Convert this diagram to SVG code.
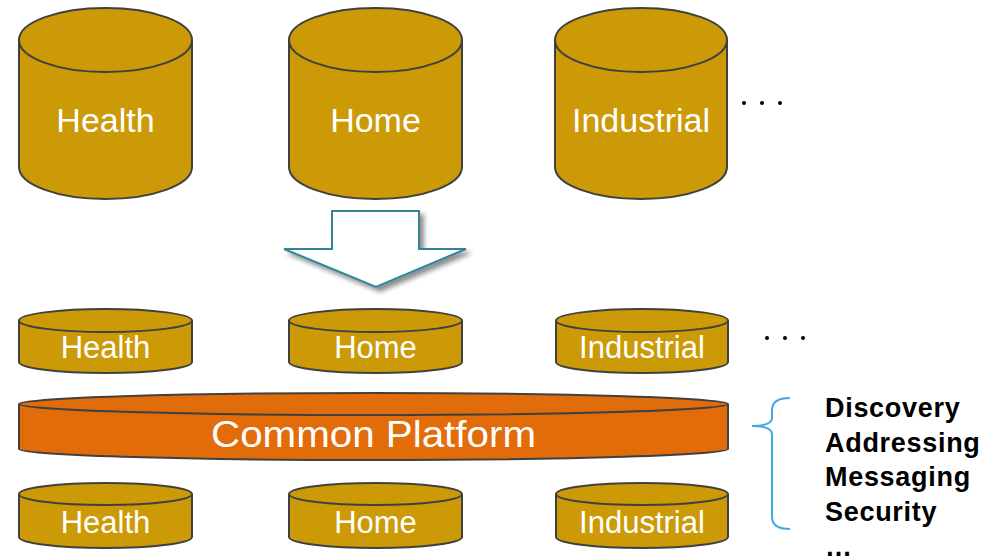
<svg xmlns="http://www.w3.org/2000/svg" width="993" height="560" viewBox="0 0 993 560">
<defs>
<style>
.cyl{fill:#CC9A06;stroke:#404040;stroke-width:2}
.plat{fill:#E36C0A;stroke:#404040;stroke-width:2}
.lbl{font-family:"Liberation Sans",Arial,sans-serif;fill:#fff;text-anchor:middle}
.big{font-size:34px}
.sm{font-size:31px}
.side{font-family:"Liberation Sans",Arial,sans-serif;font-weight:bold;font-size:27px;letter-spacing:0.7px;fill:#000}
.dot{fill:#000}
</style>
<filter id="sh" x="-20%" y="-20%" width="150%" height="150%">
<feGaussianBlur in="SourceAlpha" stdDeviation="2.5"/>
<feOffset dx="4" dy="4" result="b"/>
<feComponentTransfer><feFuncA type="linear" slope="0.45"/></feComponentTransfer>
<feMerge><feMergeNode/><feMergeNode in="SourceGraphic"/></feMerge>
</filter>
</defs>
<rect width="993" height="560" fill="#fff"/>

<g id="top-health">
<path class="cyl" d="M19,40 V167 A86.5,32 0 0 0 192,167 V40"/>
<ellipse class="cyl" cx="105.5" cy="40" rx="86.5" ry="32"/>
<text class="lbl big" x="105.5" y="132">Health</text>
</g>
<g id="top-home">
<path class="cyl" d="M289,40 V167 A86.5,32 0 0 0 462,167 V40"/>
<ellipse class="cyl" cx="375.5" cy="40" rx="86.5" ry="32"/>
<text class="lbl big" x="375.5" y="132">Home</text>
</g>
<g id="top-industrial">
<path class="cyl" d="M555,40 V167 A86,32 0 0 0 727,167 V40"/>
<ellipse class="cyl" cx="641" cy="40" rx="86" ry="32"/>
<text class="lbl big" x="641" y="132">Industrial</text>
</g>
<g id="top-dots">
<circle class="dot" cx="744" cy="103" r="2"/>
<circle class="dot" cx="762" cy="103" r="2"/>
<circle class="dot" cx="780" cy="103" r="2"/>
</g>

<g id="connectors">
<path d="M332,211 H419 V249 H466 L376,287 L284,249 H332 Z" fill="#fff" stroke="#31849B" stroke-width="2" filter="url(#sh)"/>
<path d="M790,398 Q772,398 772,410 V418 Q772,426 752,426 Q772,426 772,434 V517 Q772,529 790,529" fill="none" stroke="#3FA9E0" stroke-width="2"/>
</g>

<g id="mid-health">
<path class="cyl" d="M19,320.5 V362 A86.5,11 0 0 0 192,362 V320.5"/>
<ellipse class="cyl" cx="105.5" cy="320.5" rx="86.5" ry="11.5"/>
<text class="lbl sm" x="105.5" y="358">Health</text>
</g>
<g id="mid-home">
<path class="cyl" d="M289,320.5 V362 A86.5,11 0 0 0 462,362 V320.5"/>
<ellipse class="cyl" cx="375.5" cy="320.5" rx="86.5" ry="11.5"/>
<text class="lbl sm" x="375.5" y="358">Home</text>
</g>
<g id="mid-industrial">
<path class="cyl" d="M556,320.5 V362 A86,11 0 0 0 728,362 V320.5"/>
<ellipse class="cyl" cx="642" cy="320.5" rx="86" ry="11.5"/>
<text class="lbl sm" x="642" y="358">Industrial</text>
</g>
<g id="mid-dots">
<circle class="dot" cx="767" cy="338" r="2"/>
<circle class="dot" cx="785" cy="338" r="2"/>
<circle class="dot" cx="803" cy="338" r="2"/>
</g>

<g id="common-platform">
<path class="plat" d="M19,404 V449 A354.5,11 0 0 0 728,449 V404"/>
<ellipse class="plat" cx="373.5" cy="404" rx="354.5" ry="11"/>
<text class="lbl" x="373.5" y="447" font-size="36" textLength="325" lengthAdjust="spacingAndGlyphs">Common Platform</text>
</g>

<g id="bot-health">
<path class="cyl" d="M19,494 V537 A86.5,11 0 0 0 192,537 V494"/>
<ellipse class="cyl" cx="105.5" cy="494" rx="86.5" ry="11"/>
<text class="lbl sm" x="105.5" y="533">Health</text>
</g>
<g id="bot-home">
<path class="cyl" d="M289,494 V537 A86.5,11 0 0 0 462,537 V494"/>
<ellipse class="cyl" cx="375.5" cy="494" rx="86.5" ry="11"/>
<text class="lbl sm" x="375.5" y="533">Home</text>
</g>
<g id="bot-industrial">
<path class="cyl" d="M556,494 V537 A86,11 0 0 0 728,537 V494"/>
<ellipse class="cyl" cx="642" cy="494" rx="86" ry="11"/>
<text class="lbl sm" x="642" y="533">Industrial</text>
</g>

<g id="features">
<text class="side" x="825" y="417">Discovery</text>
<text class="side" x="825" y="452">Addressing</text>
<text class="side" x="825" y="486">Messaging</text>
<text class="side" x="825" y="521">Security</text>
<text class="side" x="825" y="556">…</text>
</g>
</svg>
